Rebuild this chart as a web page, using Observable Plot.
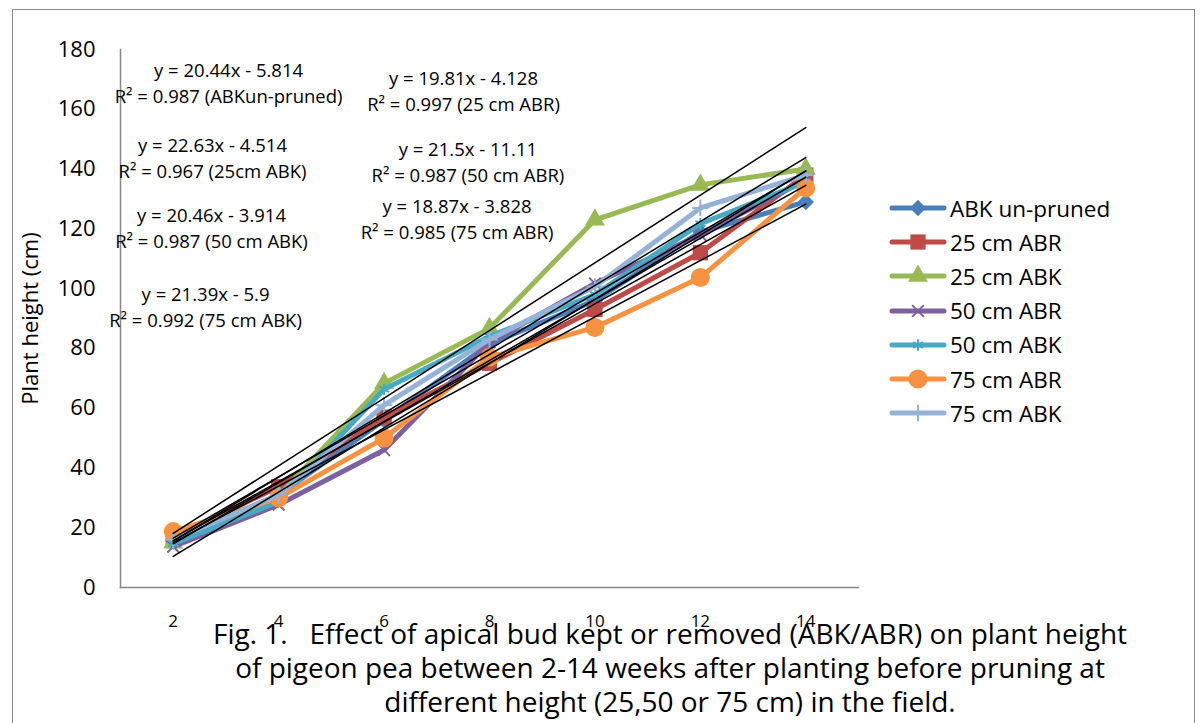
<!DOCTYPE html>
<html><head><meta charset="utf-8">
<script src="https://cdn.jsdelivr.net/npm/d3@7"></script>
<script src="https://cdn.jsdelivr.net/npm/@observablehq/plot@0.6"></script>
<style>
body{margin:0;background:#fff;}
#wrap{position:relative;width:1204px;height:723px;overflow:hidden;font-family:"Open Sans",sans-serif;color:#000;}
#border{position:absolute;left:12px;top:9px;width:1183px;height:800px;border:1.5px solid #8a8a8a;box-sizing:border-box;}
#chart{position:absolute;left:0;top:0;}
#legend{position:absolute;left:889px;top:191px;}
.item{display:flex;align-items:center;height:34.2px;font-size:22.5px;white-space:nowrap;}
.item svg{margin-right:3px;}
.cap{position:absolute;left:670px;height:34px;line-height:34px;font-size:28px;white-space:pre;transform-origin:center;}
</style></head>
<body>
<div id="wrap"><div id="border"></div><div id="chart"></div><div id="legend"></div><div id="caption"></div></div>
<script>
// ---- data ----
const weeks = [2, 4, 6, 8, 10, 12, 14];
const seriesNames = ["ABK un-pruned", "25 cm ABR", "25 cm ABK", "50 cm ABR", "50 cm ABK", "75 cm ABR", "75 cm ABK"];
const abkUnpruned = [15.7, 31, 56, 81.5, 96, 119, 129];
const abr25 = [17, 33.7, 57, 75, 93, 112, 138];
const abk25 = [15, 30.7, 68.3, 86.7, 123, 134.7, 140];
const abr50 = [13.7, 27.7, 46, 82, 101.7, 118, 136.3];
const abk50 = [14.7, 28.7, 66.3, 84, 98, 121.7, 135.7];
const abr75 = [18.7, 30, 50, 77, 87, 103.7, 133.7];
const abk75 = [16, 31, 61, 83, 100.7, 127, 138];
const seriesValues = [abkUnpruned, abr25, abk25, abr50, abk50, abr75, abk75];
const yTicks = [0, 20, 40, 60, 80, 100, 120, 140, 160, 180];

// trendlines (from the printed equations; x = point index 1..7)
const trendSlopes = [20.44, 19.81, 22.63, 21.5, 20.46, 18.87, 21.39];
const trendIntercepts = [-5.814, -4.128, -4.514, -11.11, -3.914, -3.828, -5.9];
const trendR2 = ["0.987", "0.997", "0.967", "0.987", "0.987", "0.985", "0.992"];
const trendTags = ["ABKun-pruned", "25 cm ABR", "25cm ABK", "50 cm ABR", "50 cm ABK", "75 cm ABR", "75 cm ABK"];
const trendEqText = ["y = 20.44x - 5.814", "y = 19.81x - 4.128", "y = 22.63x - 4.514", "y = 21.5x - 11.11", "y = 20.46x - 3.914", "y = 18.87x - 3.828", "y = 21.39x - 5.9"];

const captionLines = [
  "Fig. 1.   Effect of apical bud kept or removed (ABK/ABR) on plant height",
  "of pigeon pea between 2-14 weeks after planting before pruning at",
  "different height (25,50 or 75 cm) in the field."
];

// ---- styles / layout ----
const colors = ["#4a7ebb", "#be4b48", "#98b954", "#7d60a0", "#46aac5", "#f69240", "#95b3d7"];
const symbols = ["diamond2", "square", "triangle", "times", "asterisk", "circle", "plus"];
const d3symbols = [d3.symbolDiamond2, d3.symbolSquare, d3.symbolTriangle, d3.symbolTimes, d3.symbolAsterisk, d3.symbolCircle, d3.symbolPlus];
const symFilled = [true, true, true, false, false, true, false];
const symR = [7.4, 8.6, 7.4, 5.4, 5.4, 9.5, 5.4];
const eqLabelAt = [[3.05, 169.3], [7.507, 166.6], [2.745, 144.0], [7.59, 142.7], [2.726, 120.6], [7.384, 123.6], [2.613, 94.2]];

const rows = [];
seriesNames.forEach((s, k) => weeks.forEach((w, i) => rows.push({series: s, k, week: w, value: seriesValues[k][i]})));
const trendRows = [];
trendSlopes.forEach((m, k) => [weeks[0], weeks[weeks.length - 1]].forEach(w => trendRows.push({k, week: w, value: m * (w / 2) + trendIntercepts[k]})));
const eqRows = trendEqText.map((t, k) => ({k, text: t + "\nR\u00b2 = " + trendR2[k] + " (" + trendTags[k] + ")", x: eqLabelAt[k][0], y: eqLabelAt[k][1]}));

const seriesMarks = [];
seriesNames.forEach((s, k) => {
  const d = rows.filter(r => r.k === k);
  seriesMarks.push(Plot.line(d, {x: "week", y: "value", stroke: colors[k], strokeWidth: 5, strokeLinejoin: "round", strokeLinecap: "round"}));
  seriesMarks.push(Plot.dot(d, {x: "week", y: "value", symbol: symbols[k], r: symR[k],
    fill: symFilled[k] ? colors[k] : "none", stroke: symFilled[k] ? "none" : colors[k], strokeWidth: 2}));
});

const chart = Plot.plot({
  width: 1204, height: 640,
  marginLeft: 120, marginRight: 346, marginTop: 49, marginBottom: 53,
  style: {fontFamily: "Open Sans", background: "transparent", overflow: "visible", color: "#000"},
  x: {domain: [1, 15]},
  y: {domain: [0, 180]},
  marks: [
    Plot.axisY({ticks: yTicks, tickSize: 0, tickPadding: 25, fontSize: 22, label: "Plant height (cm)", labelAnchor: "center", labelArrow: "none", labelOffset: 98}),
    Plot.axisX({ticks: weeks, tickSize: 0, tickPadding: 27, fontSize: 17, label: null}),
    Plot.frame({anchor: "left", stroke: "#868686", strokeWidth: 1.5}),
    Plot.frame({anchor: "bottom", stroke: "#868686", strokeWidth: 1.5}),
    ...seriesMarks,
    Plot.line(trendRows, {x: "week", y: "value", z: "k", stroke: "#000", strokeWidth: 1.5}),
    Plot.text(eqRows, {x: "x", y: "y", text: "text", fontSize: 18.5, lineHeight: 1.4, lineAnchor: "middle", textAnchor: "middle", fill: "#000"})
  ]
});
document.getElementById("chart").appendChild(chart);

// legend
const leg = d3.select("#legend");
seriesNames.forEach((s, k) => {
  const it = leg.append("div").attr("class", "item");
  const sv = it.append("svg").attr("width", 58).attr("height", 34);
  sv.append("line").attr("x1", 3).attr("x2", 55).attr("y1", 17).attr("y2", 17)
    .attr("stroke", colors[k]).attr("stroke-width", 5).attr("stroke-linecap", "round");
  sv.append("path").attr("transform", "translate(29,17)")
    .attr("d", d3.symbol(d3symbols[k], Math.PI * symR[k] * symR[k])())
    .attr("fill", symFilled[k] ? colors[k] : "none")
    .attr("stroke", symFilled[k] ? "none" : colors[k]).attr("stroke-width", 2);
  it.append("span").text(s);
});

// caption
const cap = document.getElementById("caption");
const capEls = captionLines.map((t, i) => {
  const el = document.createElement("div");
  el.className = "cap"; el.textContent = t; el.style.top = (616 + i * 34) + "px";
  cap.appendChild(el); return el;
});
const sx = 914 / capEls[0].getBoundingClientRect().width;
capEls.forEach(el => el.style.transform = "translateX(-50%) scaleX(" + sx + ")");
</script>
</body></html>
